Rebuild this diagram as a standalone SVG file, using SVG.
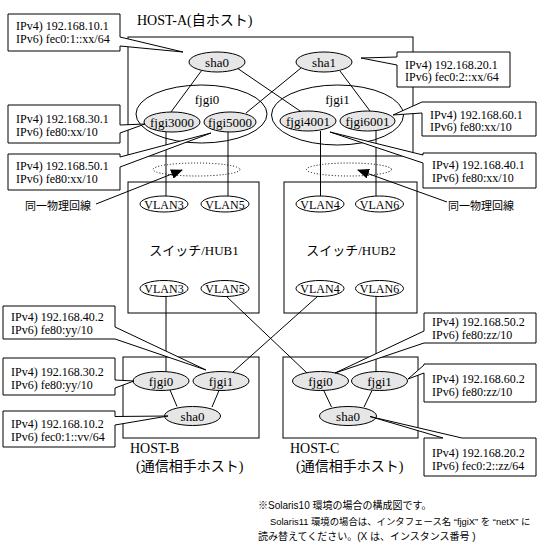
<svg xmlns="http://www.w3.org/2000/svg" width="545" height="543" viewBox="0 0 545 543">
<style>
.box{fill:none;stroke:#000;stroke-width:1}
.ln{stroke:#000;stroke-width:1;fill:none}
.gry{fill:#e6e6e6;stroke:#000;stroke-width:1}
.wht{fill:#fff;stroke:#000;stroke-width:1}
.big{fill:none;stroke:#000;stroke-width:1}
.dot{fill:none;stroke:#000;stroke-width:1;stroke-dasharray:1 2}
.co{fill:#fff;stroke:#000;stroke-width:1}
.t{font-family:"Liberation Serif","Noto Sans CJK JP",serif;font-size:13px;fill:#000}
.tc{font-family:"Liberation Serif","Noto Sans CJK JP",serif;font-size:12px;fill:#000}
.th{font-family:"Liberation Serif","Noto Sans CJK JP",serif;font-size:14px;fill:#000}
.tg{font-family:"Liberation Sans","Noto Sans CJK JP",sans-serif;font-size:11px;fill:#000}
.tn{font-family:"Liberation Sans","Noto Sans CJK JP",sans-serif;font-size:10px;fill:#000}
.m{text-anchor:middle}
</style>
<defs>
<marker id="ah" markerUnits="userSpaceOnUse" markerWidth="12" markerHeight="10" refX="11" refY="5" orient="auto">
<path d="M0,0 L12,5 L0,10 Z" fill="#000"/>
</marker>
</defs>

<g id="host-a-box"><rect class="box" x="128" y="37" width="285" height="119"/><text class="th" x="137" y="25">HOST-A(自ホスト)</text></g>
<g id="hub1"><rect class="box" x="128" y="182" width="131" height="131"/><text class="t m" x="194" y="255">スイッチ/HUB1</text></g>
<g id="hub2"><rect class="box" x="284" y="182" width="133" height="131"/><text class="t m" x="351" y="255">スイッチ/HUB2</text></g>
<g id="host-b-box"><rect class="box" x="123" y="357" width="136" height="81"/><text class="th" x="130" y="453">HOST-B</text><text class="th" x="136" y="471">(通信相手ホスト)</text></g>
<g id="host-c-box"><rect class="box" x="283" y="357" width="135" height="81"/><text class="th" x="290" y="453">HOST-C</text><text class="th" x="296" y="471">(通信相手ホスト)</text></g>

<g id="connectors">
<line class="ln" x1="202" y1="70" x2="171" y2="112"/>
<line class="ln" x1="237" y1="68" x2="303" y2="113"/>
<line class="ln" x1="301" y1="68" x2="246" y2="113"/>
<line class="ln" x1="340" y1="71" x2="370" y2="111"/>
<line class="ln" x1="166" y1="131" x2="166" y2="196"/>
<line class="ln" x1="228" y1="131" x2="228" y2="196"/>
<line class="ln" x1="320.5" y1="131" x2="320.5" y2="196"/>
<line class="ln" x1="376" y1="129" x2="376" y2="196"/>
<line class="ln" x1="166" y1="296" x2="166" y2="372"/>
<line class="ln" x1="226" y1="296" x2="307" y2="373"/>
<line class="ln" x1="318" y1="296" x2="233" y2="372"/>
<line class="ln" x1="376" y1="296" x2="376" y2="372"/>
<line class="ln" x1="170" y1="390" x2="177" y2="406.5"/>
<line class="ln" x1="219" y1="390.5" x2="212" y2="407"/>
<line class="ln" x1="323.5" y1="390" x2="331.5" y2="407"/>
<line class="ln" x1="372" y1="390.5" x2="364" y2="407"/>
<line class="ln" x1="96" y1="204" x2="182" y2="170" marker-end="url(#ah)"/>
<line class="ln" x1="447" y1="202" x2="358" y2="170" marker-end="url(#ah)"/>
</g>

<g id="phys1"><ellipse class="dot" cx="196.5" cy="169.5" rx="43.5" ry="6.5"/></g>
<g id="phys2"><ellipse class="dot" cx="349" cy="169.5" rx="42.5" ry="6.5"/></g>
<g id="phys-label-l"><text class="tg" x="25" y="210">同一物理回線</text></g>
<g id="phys-label-r"><text class="tg" x="448" y="210">同一物理回線</text></g>

<g id="a-fjgi0"><ellipse class="big" cx="201.5" cy="114" rx="65.5" ry="29"/><text class="t m" x="207" y="104">fjgi0</text></g>
<g id="a-fjgi1"><ellipse class="big" cx="337.5" cy="115" rx="66" ry="30"/><text class="t m" x="337.5" y="104">fjgi1</text></g>
<g id="a-sha0"><ellipse class="gry" cx="217" cy="62" rx="28" ry="10"/><text class="t m" x="217" y="66.5">sha0</text></g>
<g id="a-sha1"><ellipse class="gry" cx="324" cy="62" rx="28" ry="10"/><text class="t m" x="324" y="66.5">sha1</text></g>
<g id="a-fjgi3000"><ellipse class="gry" cx="172" cy="122" rx="28" ry="10"/><text class="t m" x="172" y="126.5">fjgi3000</text></g>
<g id="a-fjgi5000"><ellipse class="gry" cx="230" cy="122" rx="26" ry="10"/><text class="t m" x="230" y="126.5">fjgi5000</text></g>
<g id="a-fjgi4001"><ellipse class="gry" cx="308" cy="121" rx="28" ry="10"/><text class="t m" x="308" y="125.5">fjgi4001</text></g>
<g id="a-fjgi6001"><ellipse class="gry" cx="367.5" cy="121" rx="27.5" ry="10"/><text class="t m" x="367.5" y="125.5">fjgi6001</text></g>

<g id="hub1-vlan3-up"><ellipse class="wht" cx="164" cy="204" rx="24" ry="8"/><text class="tc m" x="164" y="208.5">VLAN3</text></g>
<g id="hub1-vlan5-up"><ellipse class="wht" cx="225" cy="204" rx="24" ry="8"/><text class="tc m" x="225" y="208.5">VLAN5</text></g>
<g id="hub1-vlan3-dn"><ellipse class="wht" cx="164" cy="288.5" rx="24" ry="8"/><text class="tc m" x="164" y="293">VLAN3</text></g>
<g id="hub1-vlan5-dn"><ellipse class="wht" cx="225" cy="288.5" rx="24" ry="8"/><text class="tc m" x="225" y="293">VLAN5</text></g>
<g id="hub2-vlan4-up"><ellipse class="wht" cx="320" cy="204" rx="24" ry="8"/><text class="tc m" x="320" y="208.5">VLAN4</text></g>
<g id="hub2-vlan6-up"><ellipse class="wht" cx="379.5" cy="204" rx="24" ry="8"/><text class="tc m" x="379.5" y="208.5">VLAN6</text></g>
<g id="hub2-vlan4-dn"><ellipse class="wht" cx="320" cy="288.5" rx="24" ry="8"/><text class="tc m" x="320" y="293">VLAN4</text></g>
<g id="hub2-vlan6-dn"><ellipse class="wht" cx="379.5" cy="288.5" rx="24" ry="8"/><text class="tc m" x="379.5" y="293">VLAN6</text></g>

<g id="b-fjgi0"><ellipse class="gry" cx="161" cy="381" rx="28" ry="9.5"/><text class="t m" x="161" y="385.5">fjgi0</text></g>
<g id="b-fjgi1"><ellipse class="gry" cx="221" cy="381" rx="28" ry="9.5"/><text class="t m" x="221" y="385.5">fjgi1</text></g>
<g id="b-sha0"><ellipse class="gry" cx="192.5" cy="416" rx="28" ry="9.5"/><text class="t m" x="192.5" y="420.5">sha0</text></g>
<g id="c-fjgi0"><ellipse class="gry" cx="320.5" cy="381" rx="28" ry="9.5"/><text class="t m" x="320.5" y="385.5">fjgi0</text></g>
<g id="c-fjgi1"><ellipse class="gry" cx="379.5" cy="381" rx="28" ry="9.5"/><text class="t m" x="379.5" y="385.5">fjgi1</text></g>
<g id="c-sha0"><ellipse class="gry" cx="348" cy="416" rx="28.5" ry="9.5"/><text class="t m" x="348" y="420.5">sha0</text></g>

<g id="co-10-1"><path class="co" d="M8,14 H120 V37 L183,52 L120,46 V51 H8 Z"/><text class="tc" x="16" y="30">IPv4) 192.168.10.1</text><text class="tc" x="16" y="43">IPv6) fec0:1::xx/64</text></g>
<g id="co-30-1"><path class="co" d="M8,105 H120 V125 L145,124 L120,133 V143 H8 Z"/><text class="tc" x="16" y="122.5">IPv4) 192.168.30.1</text><text class="tc" x="16" y="135.5">IPv6) fe80:xx/10</text></g>
<g id="co-50-1"><path class="co" d="M8,154 H120 V157 L211,133 L120,167 V190 H8 Z"/><text class="tc" x="16" y="170">IPv4) 192.168.50.1</text><text class="tc" x="16" y="183">IPv6) fe80:xx/10</text></g>
<g id="co-20-1"><path class="co" d="M397,52 H510 V87 H397 V65 L361,58 L397,57 Z"/><text class="tc" x="405" y="68.5">IPv4) 192.168.20.1</text><text class="tc" x="405" y="81">IPv6) fec0:2::xx/64</text></g>
<g id="co-60-1"><path class="co" d="M422,102 H536 V136 H422 V113 L393,115 Z"/><text class="tc" x="430" y="118.5">IPv4) 192.168.60.1</text><text class="tc" x="430" y="131">IPv6) fe80:xx/10</text></g>
<g id="co-40-1"><path class="co" d="M423,153 H536 V188 H423 V163 L330,132 L423,155 Z"/><text class="tc" x="432" y="169">IPv4) 192.168.40.1</text><text class="tc" x="432" y="182">IPv6) fe80:xx/10</text></g>
<g id="co-40-2"><path class="co" d="M3,306 H115 V327 L206,370 L115,339 H3 Z"/><text class="tc" x="11" y="321">IPv4) 192.168.40.2</text><text class="tc" x="11" y="334">IPv6) fe80:yy/10</text></g>
<g id="co-30-2"><path class="co" d="M3,358 H115 V380 L134,381 L115,388 V395 H3 Z"/><text class="tc" x="11" y="375.5">IPv4) 192.168.30.2</text><text class="tc" x="11" y="388.5">IPv6) fe80:yy/10</text></g>
<g id="co-10-2"><path class="co" d="M3,411 H115 V416.5 L168,416 L115,425 V447 H3 Z"/><text class="tc" x="11" y="427.5">IPv4) 192.168.10.2</text><text class="tc" x="11" y="440.5">IPv6) fec0:1::vv/64</text></g>
<g id="co-50-2"><path class="co" d="M424,313 H536 V343 H424 L335,373 L424,331 Z"/><text class="tc" x="432" y="326">IPv4) 192.168.50.2</text><text class="tc" x="432" y="339">IPv6) fe80:zz/10</text></g>
<g id="co-60-2"><path class="co" d="M424,364 H536 V402 H424 V373 L408,379 L424,365 Z"/><text class="tc" x="432" y="382.5">IPv4) 192.168.60.2</text><text class="tc" x="432" y="395.5">IPv6) fe80:zz/10</text></g>
<g id="co-20-2"><path class="co" d="M424,438 H443 L370,416.5 L462,438 H536 V476 H424 Z"/><text class="tc" x="432" y="456.5">IPv4) 192.168.20.2</text><text class="tc" x="432" y="469.5">IPv6) fec0:2::zz/64</text></g>

<g id="note">
<text class="tn" x="258" y="509">※Solaris10 環境の場合の構成図です。</text>
<text class="tn" x="270" y="525" style="font-size:9.4px">Solaris11 環境の場合は、インタフェース名 “fjgiX” を “netX” に</text>
<text class="tn" x="258" y="540">読み替えてください。(X は、インスタンス番号 )</text>
</g>
</svg>
